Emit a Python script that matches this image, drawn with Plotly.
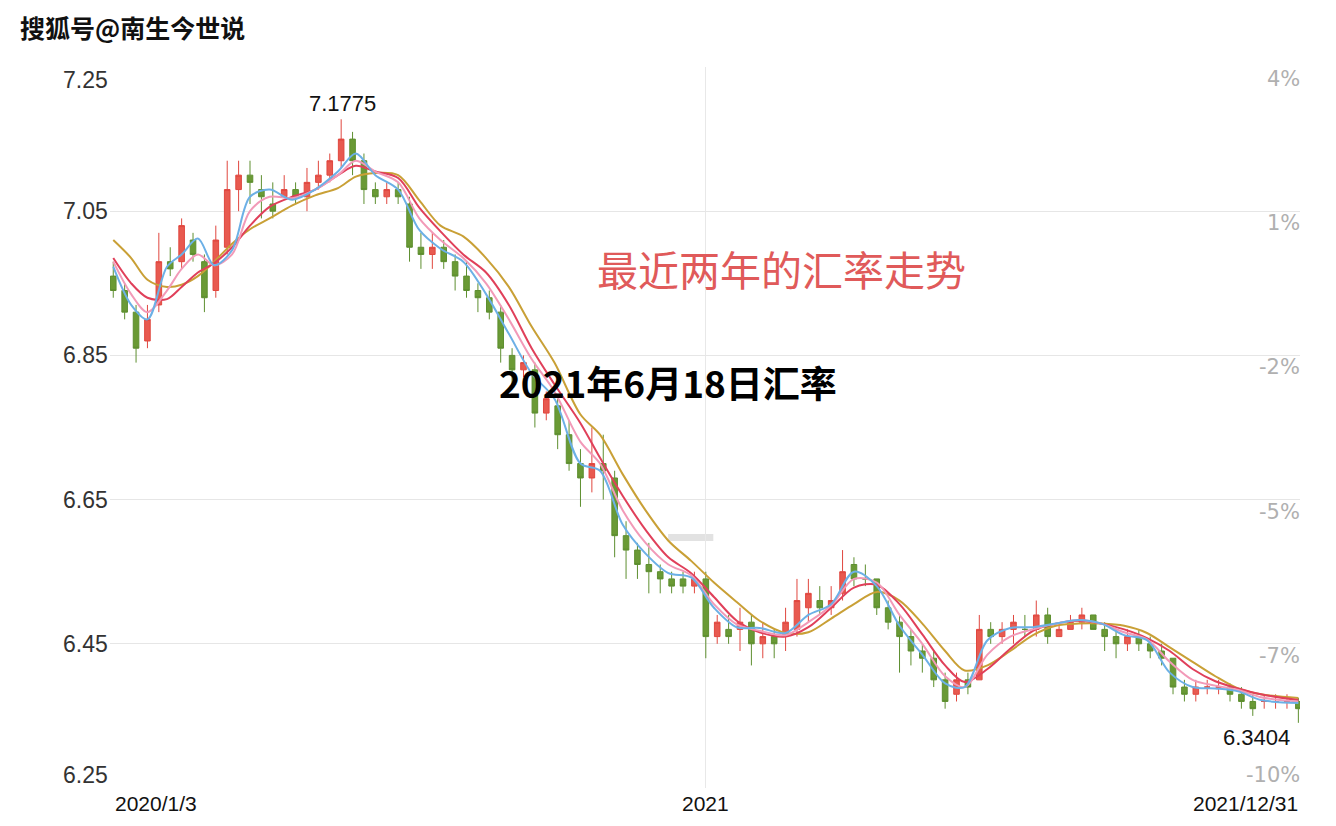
import plotly.graph_objects as go
import pandas as pd

# ---------------- data ----------------
week_dates = pd.date_range("2020-01-03", "2021-12-31", freq="W-FRI")

opens = [6.96, 6.94, 6.91, 6.87, 6.92, 6.98, 6.98, 7.01, 6.98, 6.94,
         7.00, 7.08, 7.10, 7.08, 7.06, 7.07, 7.08, 7.07, 7.09, 7.10,
         7.12, 7.15, 7.12, 7.08, 7.07, 7.08, 7.06, 7.00, 6.99, 7.00,
         6.98, 6.96, 6.94, 6.93, 6.91, 6.85, 6.83, 6.83, 6.77, 6.78,
         6.74, 6.70, 6.68, 6.70, 6.68, 6.60, 6.58, 6.56, 6.55, 6.54,
         6.54, 6.53, 6.54, 6.46, 6.47, 6.47, 6.48, 6.45, 6.46, 6.46,
         6.47, 6.50, 6.51, 6.50, 6.52, 6.56, 6.54, 6.54, 6.50, 6.48,
         6.46, 6.44, 6.43, 6.40, 6.38, 6.40, 6.40, 6.47, 6.46, 6.47,
         6.47, 6.47, 6.49, 6.46, 6.47, 6.48, 6.49, 6.47, 6.46, 6.45,
         6.46, 6.45, 6.44, 6.43, 6.39, 6.38, 6.39, 6.39, 6.39, 6.38,
         6.37, 6.37, 6.37, 6.37, 6.37]
highs = [6.98, 6.95, 6.92, 6.92, 7.02, 7.00, 7.04, 7.02, 6.99, 7.03,
         7.12, 7.12, 7.12, 7.10, 7.09, 7.10, 7.09, 7.11, 7.12, 7.13,
         7.1775, 7.16, 7.13, 7.09, 7.09, 7.09, 7.07, 7.02, 7.02, 7.01,
         6.99, 6.98, 6.95, 6.94, 6.92, 6.86, 6.85, 6.84, 6.80, 6.79,
         6.76, 6.72, 6.75, 6.74, 6.69, 6.62, 6.59, 6.59, 6.56, 6.55,
         6.55, 6.55, 6.55, 6.49, 6.49, 6.50, 6.49, 6.48, 6.47, 6.50,
         6.54, 6.54, 6.53, 6.53, 6.58, 6.57, 6.56, 6.54, 6.51, 6.49,
         6.47, 6.45, 6.44, 6.41, 6.41, 6.41, 6.49, 6.48, 6.48, 6.49,
         6.49, 6.51, 6.50, 6.48, 6.49, 6.50, 6.49, 6.48, 6.47, 6.47,
         6.47, 6.46, 6.45, 6.43, 6.40, 6.40, 6.40, 6.40, 6.395, 6.39,
         6.38, 6.38, 6.38, 6.38, 6.375]
lows = [6.93, 6.90, 6.84, 6.86, 6.91, 6.96, 6.97, 6.98, 6.91, 6.93,
        6.99, 7.05, 7.06, 7.04, 7.04, 7.07, 7.06, 7.05, 7.08, 7.09,
        7.11, 7.10, 7.06, 7.06, 7.06, 7.06, 6.98, 6.97, 6.97, 6.97,
        6.94, 6.93, 6.91, 6.90, 6.84, 6.81, 6.82, 6.75, 6.76, 6.72,
        6.69, 6.64, 6.66, 6.65, 6.57, 6.54, 6.54, 6.52, 6.52, 6.52,
        6.52, 6.52, 6.43, 6.45, 6.45, 6.44, 6.42, 6.43, 6.43, 6.44,
        6.46, 6.48, 6.49, 6.49, 6.51, 6.53, 6.53, 6.49, 6.47, 6.41,
        6.42, 6.41, 6.39, 6.36, 6.37, 6.38, 6.40, 6.45, 6.45, 6.45,
        6.46, 6.46, 6.45, 6.46, 6.47, 6.47, 6.47, 6.44, 6.43, 6.44,
        6.44, 6.43, 6.42, 6.38, 6.37, 6.37, 6.38, 6.38, 6.37, 6.36,
        6.35, 6.36, 6.36, 6.36, 6.3404]
closes = [6.94, 6.91, 6.86, 6.90, 6.98, 6.97, 7.03, 6.99, 6.93, 7.01,
          7.08, 7.10, 7.09, 7.07, 7.05, 7.08, 7.07, 7.09, 7.10, 7.12,
          7.15, 7.12, 7.08, 7.07, 7.08, 7.07, 7.00, 6.99, 7.00, 6.98,
          6.96, 6.94, 6.93, 6.91, 6.86, 6.83, 6.84, 6.77, 6.79, 6.74,
          6.70, 6.68, 6.70, 6.69, 6.60, 6.58, 6.56, 6.55, 6.54, 6.53,
          6.53, 6.54, 6.46, 6.48, 6.46, 6.48, 6.45, 6.46, 6.45, 6.48,
          6.51, 6.52, 6.50, 6.51, 6.55, 6.54, 6.54, 6.50, 6.48, 6.46,
          6.44, 6.43, 6.40, 6.37, 6.40, 6.39, 6.47, 6.46, 6.47, 6.48,
          6.47, 6.49, 6.46, 6.47, 6.48, 6.49, 6.47, 6.46, 6.45, 6.46,
          6.45, 6.44, 6.43, 6.39, 6.38, 6.39, 6.39, 6.39, 6.38, 6.37,
          6.36, 6.37, 6.37, 6.37, 6.36]

ma_dates = ["2020-01-03", "2020-01-14", "2020-01-24", "2020-02-05", "2020-02-14",
            "2020-02-24", "2020-03-05", "2020-03-16", "2020-03-27", "2020-04-08",
            "2020-04-22", "2020-05-06", "2020-05-20", "2020-05-31", "2020-06-12",
            "2020-06-26", "2020-07-09", "2020-07-22", "2020-08-05", "2020-08-19",
            "2020-09-02", "2020-09-16", "2020-09-30", "2020-10-16", "2020-10-28",
            "2020-11-11", "2020-11-25", "2020-12-09", "2020-12-23", "2021-01-06",
            "2021-01-20", "2021-02-03", "2021-02-19", "2021-03-05", "2021-03-19",
            "2021-04-02", "2021-04-16", "2021-04-30", "2021-05-14", "2021-05-28",
            "2021-06-09", "2021-06-23", "2021-07-07", "2021-07-21", "2021-08-04",
            "2021-08-18", "2021-09-01", "2021-09-15", "2021-09-29", "2021-10-13",
            "2021-10-27", "2021-11-10", "2021-11-24", "2021-12-08", "2021-12-31"]
ma_blue = [6.973, 6.92, 6.90, 6.973, 6.99, 7.012, 6.975, 6.996, 7.07, 7.08,
           7.066, 7.08, 7.105, 7.13, 7.10, 7.08, 7.024, 6.998, 6.98, 6.935,
           6.88, 6.825, 6.79, 6.70, 6.69, 6.615, 6.575, 6.548, 6.542, 6.50,
           6.473, 6.472, 6.465, 6.49, 6.505, 6.55, 6.53, 6.475, 6.435, 6.395,
           6.39, 6.455, 6.472, 6.473, 6.478, 6.483, 6.478, 6.462, 6.455, 6.41,
           6.39, 6.388, 6.384, 6.372, 6.368]
ma_pink = [6.98, 6.935, 6.91, 6.94, 6.97, 6.99, 6.975, 6.99, 7.05, 7.07,
           7.068, 7.08, 7.10, 7.12, 7.105, 7.09, 7.04, 7.01, 6.985, 6.95,
           6.90, 6.845, 6.80, 6.73, 6.70, 6.635, 6.59, 6.56, 6.545, 6.505,
           6.477, 6.468, 6.462, 6.48, 6.503, 6.54, 6.535, 6.49, 6.45, 6.405,
           6.39, 6.435, 6.46, 6.47, 6.478, 6.483, 6.478, 6.466, 6.456, 6.425,
           6.40, 6.392, 6.386, 6.376, 6.37]
ma_red = [6.985, 6.95, 6.93, 6.928, 6.945, 6.965, 6.978, 7.00, 7.03, 7.056,
          7.07, 7.08, 7.10, 7.113, 7.105, 7.096, 7.055, 7.022, 6.99, 6.965,
          6.92, 6.86, 6.81, 6.756, 6.708, 6.655, 6.608, 6.57, 6.548, 6.515,
          6.482, 6.466, 6.46, 6.473, 6.50, 6.528, 6.532, 6.505, 6.463, 6.42,
          6.397, 6.415, 6.443, 6.468, 6.478, 6.482, 6.478, 6.47, 6.458, 6.44,
          6.415, 6.398, 6.388, 6.38, 6.372]
ma_gold = [7.01, 6.985, 6.955, 6.945, 6.948, 6.96, 6.98, 7.005, 7.025, 7.04,
           7.058, 7.072, 7.082, 7.098, 7.103, 7.10, 7.065, 7.03, 7.015, 6.985,
           6.945, 6.89, 6.84, 6.768, 6.74, 6.685, 6.635, 6.593, 6.565, 6.535,
           6.508, 6.482, 6.465, 6.466, 6.485, 6.505, 6.522, 6.51, 6.478, 6.44,
           6.413, 6.42, 6.44, 6.462, 6.475, 6.478, 6.478, 6.475, 6.465, 6.445,
           6.425, 6.405, 6.388, 6.38, 6.375]

y_ticks = [7.25, 7.05, 6.85, 6.65, 6.45, 6.25]
y_tick_text = ["7.25", "7.05", "6.85", "6.65", "6.45", "6.25"]
pct_tick_text = ["4%", "1%", "-2%", "-5%", "-7%", "-10%"]
x_labels = ["2020/1/3", "2021", "2021/12/31"]
peak_label, trough_label = "7.1775", "6.3404"
peak_value, trough_value = 7.1775, 6.3404

# ---------------- figure ----------------
NUM_FONT = "Liberation Sans, Arial, sans-serif"
CJK_FONT = "Noto Sans CJK SC, sans-serif"

fig = go.Figure()
fig.add_trace(go.Candlestick(
    x=week_dates, open=opens, high=highs, low=lows, close=closes,
    increasing=dict(line=dict(color="#e0473f", width=1), fillcolor="#e85a50"),
    decreasing=dict(line=dict(color="#5e8f30", width=1), fillcolor="#6a9a35"),
    whiskerwidth=0, showlegend=False, hoverinfo="skip",
))
for vals, col in [(ma_gold, "#c9a036"), (ma_red, "#e0405a"),
                  (ma_pink, "#f29ab8"), (ma_blue, "#6cb0e6")]:
    fig.add_trace(go.Scatter(
        x=ma_dates, y=vals, mode="lines", showlegend=False, hoverinfo="skip",
        line=dict(color=col, width=2, shape="spline", smoothing=0.9),
    ))

ann = []
# left tick labels
for v, t in zip(y_ticks, y_tick_text):
    shift = -13 if v == max(y_ticks) else (13 if v == min(y_ticks) else 0)
    ann.append(dict(xref="paper", yref="y", x=0, y=v, text=t, xanchor="right",
                    yanchor="middle", yshift=shift, showarrow=False,
                    font=dict(family=NUM_FONT, size=23, color="#333333")))
# right percentage labels
for v, t in zip(y_ticks, pct_tick_text):
    shift = 13 if v == min(y_ticks) else -12
    ann.append(dict(xref="paper", yref="y", x=1, y=v, text=t, xanchor="right",
                    yanchor="middle", yshift=shift, xshift=2, showarrow=False,
                    font=dict(family="DejaVu Sans, sans-serif", size=21, color="#b0b0b0")))
# x labels
xl_font = dict(family=NUM_FONT, size=21, color="#111111")
ann.append(dict(xref="x", yref="paper", x="2020-01-03", y=0, text=x_labels[0],
                xanchor="left", yanchor="middle", yshift=-15, showarrow=False, font=xl_font))
ann.append(dict(xref="x", yref="paper", x="2021-01-01", y=0, text=x_labels[1],
                xanchor="center", yanchor="middle", yshift=-15, showarrow=False, font=xl_font))
ann.append(dict(xref="paper", yref="paper", x=1, y=0, text=x_labels[2],
                xanchor="right", yanchor="middle", yshift=-15, showarrow=False, font=xl_font))
# extreme value labels
ann.append(dict(xref="x", yref="y", x="2020-05-23", y=peak_value, text=peak_label,
                xanchor="center", yanchor="middle", yshift=16, showarrow=False,
                font=dict(family=NUM_FONT, size=22, color="#111111")))
ann.append(dict(xref="x", yref="y", x="2021-12-05", y=trough_value, text=trough_label,
                xanchor="center", yanchor="middle", yshift=-15, showarrow=False,
                font=dict(family=NUM_FONT, size=22, color="#111111")))
# texts
ann.append(dict(xref="paper", yref="paper", x=-0.0773, y=1.0555, text="<b>搜狐号@南生今世说</b>",
                xanchor="left", yanchor="middle", showarrow=False,
                font=dict(family=CJK_FONT, size=25, color="#111111")))
ann.append(dict(xref="paper", yref="paper", x=0.5647, y=0.7212, text="最近两年的汇率走势",
                xanchor="center", yanchor="middle", showarrow=False,
                font=dict(family=CJK_FONT, size=41, color="#e05a5a")))
ann.append(dict(xref="paper", yref="paper", x=0.4689, y=0.5631, text="<b>2021年6月18日汇率</b>",
                xanchor="center", yanchor="middle", showarrow=False,
                font=dict(family=CJK_FONT, size=37, color="#000000")))

fig.update_layout(
    width=1320, height=810,
    margin=dict(l=102, r=28, t=59, b=30),
    paper_bgcolor="white", plot_bgcolor="white",
    annotations=ann,
    shapes=[dict(type="rect", xref="paper", yref="paper", x0=0.469, x1=0.507,
                 y0=0.3426, y1=0.3523, fillcolor="#e2e2e2", line=dict(width=0), layer="below")],
    xaxis=dict(type="date", range=["2020-01-01", "2022-01-01"],
               rangeslider=dict(visible=False), showticklabels=False,
               tickvals=["2021-01-01"], showgrid=True, gridcolor="#e8e8e8",
               zeroline=False, showline=False, ticks=""),
    yaxis=dict(range=[6.25, 7.25], tickvals=y_ticks, showticklabels=False,
               showgrid=True, gridcolor="#e6e6e6", zeroline=False, showline=False, ticks=""),
)

fig.write_html("out.html")
